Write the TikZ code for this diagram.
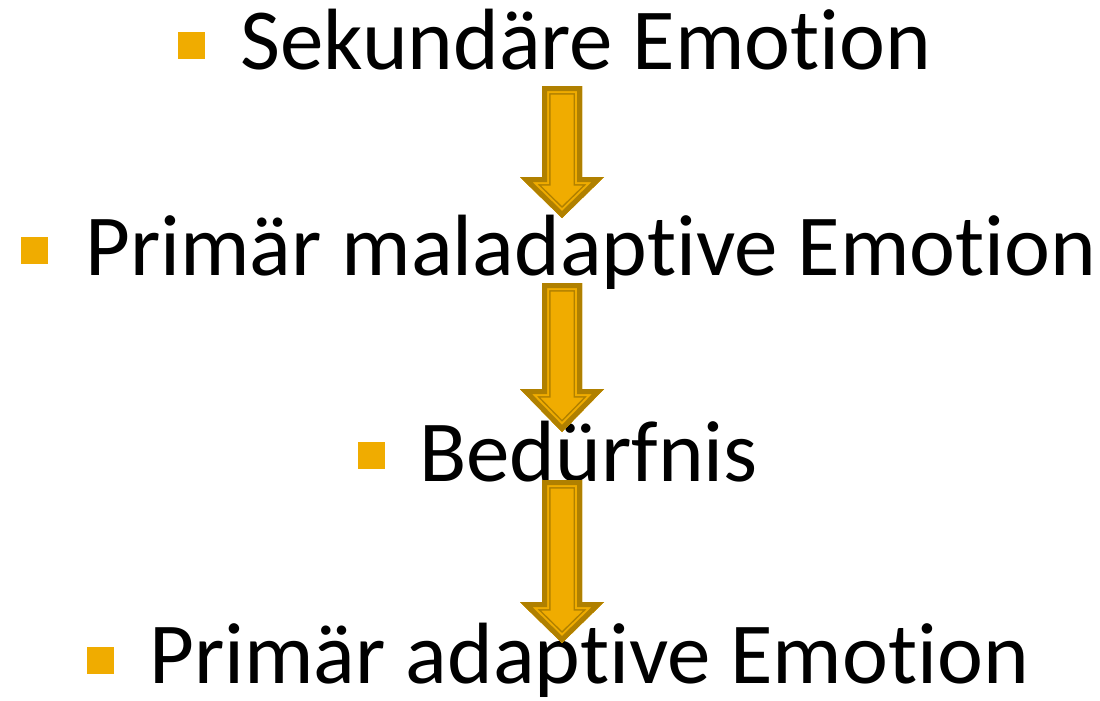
\documentclass[tikz,border=0pt]{standalone}
\usepackage{fontspec}
\setmainfont{Carlito}[RawFeature={-liga}]
\definecolor{bulletgold}{HTML}{F0AC00}
\definecolor{arrowdark}{HTML}{B08000}
\tikzset{
  bullet/.style={fill=bulletgold, minimum size=27pt, inner sep=0pt},
  itemtext/.style={anchor=base west, inner sep=0pt, font=\fontsize{87}{90}\selectfont}
}
% block arrow: top, head base, tip
\newcommand{\blockarrow}[3]{%
  \def\arrowoutline{(542,#1) -- (582,#1) -- (582,#2) -- (604,#2) -- (562,#3) -- (520,#2) -- (542,#2) -- cycle}
  \begin{scope}[line join=miter]
    \clip \arrowoutline;
    \fill[bulletgold] \arrowoutline;
    \draw[arrowdark, line width=17pt] \arrowoutline;
    \draw[bulletgold, line width=14pt] \arrowoutline;
    \draw[arrowdark, line width=10pt] \arrowoutline;
  \end{scope}}
\begin{document}
\begin{tikzpicture}[x=1pt, y=-1pt]
    \useasboundingbox (0,0) rectangle (1100,701);

    \node[bullet] (b1) at (191.5,45.5) {};
    \node[itemtext] (sek) at (240,70) {Sekundäre Emotion};

    \node[bullet] (b2) at (34.5,250.5) {};
    \node[itemtext] (mal) at (85,275) {Primär maladaptive Emotion};

    \node[bullet] (b3) at (371.5,455.5) {};
    \node[itemtext] (bed) at (419,481) {Bedürfnis};

    \node[bullet] (b4) at (100.5,660.5) {};
    \node[itemtext] (ada) at (149,683) {Primär adaptive Emotion};

    \blockarrow{86}{177}{218}
    \blockarrow{283}{389}{432}
    \blockarrow{480}{602}{643}
\end{tikzpicture}
\end{document}
